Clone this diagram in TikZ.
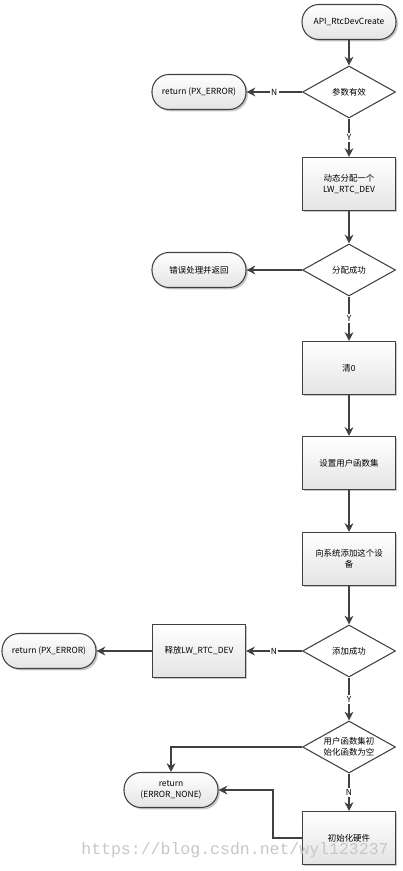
\documentclass[tikz,border=0pt]{standalone}
\usepackage{fontspec}
\setmainfont{Noto Sans CJK SC}
\newfontfamily\wmfont{Liberation Mono}
\usetikzlibrary{shapes.geometric,shadows,arrows.meta}
\definecolor{edge}{HTML}{404040}
\definecolor{boxbot}{HTML}{E4E4E4}

\tikzset{
  base/.style={draw=edge, line width=0.6pt, align=center, inner sep=1pt,
    font=\fontsize{4.8}{6.4}\selectfont},
  shade box/.style={top color=white, bottom color=boxbot,
    drop shadow={shadow xshift=1.1pt, shadow yshift=-1.1pt, fill=black!22, opacity=1}},
  term/.style={base, shade box, rectangle, rounded corners=0.34cm,
    minimum width=1.88cm, minimum height=0.70cm},
  proc/.style={base, shade box, rectangle, minimum width=1.86cm, minimum height=1.06cm},
  dec/.style={base, diamond, fill=white, aspect=1.8, inner sep=0pt,
    minimum width=1.86cm, minimum height=1.04cm},
  flow/.style={draw=edge, line width=0.6pt, -{Stealth[length=5pt,width=5pt]}},
  yn/.style={fill=white, inner sep=0.8pt, font=\fontsize{4.8}{6}\selectfont}
}

\begin{document}
\begin{tikzpicture}
\useasboundingbox (0,0) rectangle (8.04,-17.42);

\node[term] (S) at (6.98,-0.44) {API\_RtcDevCreate};
\node[dec] (D1) at (6.98,-1.84) {参数有效};
\node[term] (R1) at (3.98,-1.84) {return (PX\_ERROR)};
\node[proc] (M) at (6.98,-3.68) {动态分配一个\\LW\_RTC\_DEV};
\node[dec] (D2) at (6.98,-5.40) {分配成功};
\node[term] (E) at (3.98,-5.40) {错误处理并返回};
\node[proc] (Z) at (6.98,-7.36) {清0};
\node[proc] (F) at (6.98,-9.26) {设置用户函数集};
\node[proc] (A) at (6.98,-11.18) {向系统添加这个设\\备};
\node[dec] (D3) at (6.98,-13.02) {添加成功};
\node[proc] (L) at (3.98,-13.02) {释放LW\_RTC\_DEV};
\node[term] (R2) at (0.98,-13.02) {return (PX\_ERROR)};
\node[dec, inner xsep=-0.25cm, inner ysep=-0.1cm] (D4) at (6.98,-14.94) {用户函数集初\\始化函数为空};
\node[term] (R3) at (3.42,-15.80) {return\\(ERROR\_NONE)};
\node[proc] (H) at (6.98,-16.76) {初始化硬件};

\draw[flow] (S) -- (D1);
\draw[flow] (D1) -- node[yn] {N} (R1);
\draw[flow] (D1) -- node[yn] {Y} (M);
\draw[flow] (M) -- (D2);
\draw[flow] (D2) -- (E);
\draw[flow] (D2) -- node[yn] {Y} (Z);
\draw[flow] (Z) -- (F);
\draw[flow] (F) -- (A);
\draw[flow] (A) -- (D3);
\draw[flow] (D3) -- node[yn] {N} (L);
\draw[flow] (L) -- (R2);
\draw[flow] (D3) -- node[yn] {Y} (D4);
\draw[flow] (D4.west) -| (R3.north);
\draw[flow] (D4) -- node[yn] {N} (H);
\draw[flow] (H.west) -- ++(-0.58,0) |- (R3.east);

% watermark
\node[anchor=base west, inner sep=0pt, text=black!22, font=\wmfont\fontsize{9.4}{10}\selectfont] (W) at (1.62,-17.08) {https://blog.csdn.net/wyl123237};
\end{tikzpicture}
\end{document}
